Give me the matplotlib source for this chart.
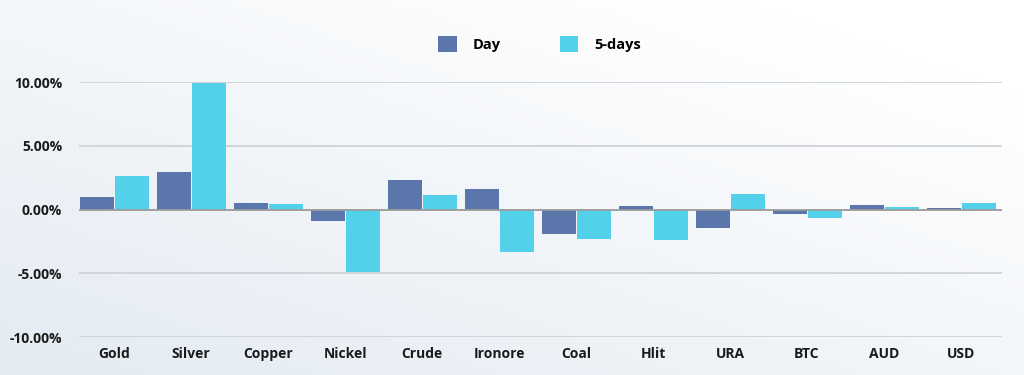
import matplotlib
matplotlib.use('Agg')
import matplotlib.pyplot as plt
import numpy as np

categories = ['Gold', 'Silver', 'Copper', 'Nickel', 'Crude', 'Ironore',
              'Coal', 'Hlit', 'URA', 'BTC', 'AUD', 'USD']
day = [0.99, 2.93, 0.55, -0.89, 2.30, 1.65, -1.91, 0.31, -1.46, -0.31, 0.34, 0.16]
five_days = [2.67, 9.93, 0.47, -4.92, 1.15, -3.32, -2.27, -2.38, 1.25, -0.68, 0.21, 0.55]
yticks = [-10, -5, 0, 5, 10]

plt.rcParams['font.family'] = ['Open Sans', 'DejaVu Sans']

fig = plt.figure(figsize=(10.24, 3.75), dpi=100)

# фон с градиентом
bg = fig.add_axes([0, 0, 1, 1])
xx, yy = np.meshgrid(np.linspace(0, 1, 200), np.linspace(0, 1, 100))
grad = np.clip(0.55 * xx + 0.6 * yy, 0, 1)
c0 = np.array([0.89, 0.92, 0.95])
c1 = np.array([1.0, 1.0, 1.0])
img = c0 + (c1 - c0) * grad[..., None]
bg.imshow(img, aspect='auto', extent=[0, 1, 0, 1], origin='lower')
bg.axis('off')

ax = fig.add_axes([0.077, 0.101, 0.902, 0.68])
ax.set_facecolor('none')

x = np.arange(len(categories))
w = 0.44
ax.bar(x - 0.265, day, w, color='#5B76AB', label='Day', zorder=3)
ax.bar(x + 0.195, five_days, w, color='#53D0EA', label='5-days', zorder=3)

ax.set_xlim(-0.5, len(categories) - 0.5)
ax.set_ylim(-10, 10)
ax.set_yticks(yticks)
ax.set_yticklabels([f'{v:.2f}%' for v in yticks], fontsize=10, fontweight='bold', color='#1a1a1a')
ax.set_xticks(x - 0.04)
ax.set_xticklabels(categories, fontsize=10, fontweight='bold', color='#1a1a1a')
ax.tick_params(axis='both', length=0)
ax.tick_params(axis='x', pad=7)
ax.tick_params(axis='y', pad=12)

for v in yticks:
    ax.axhline(v, color='#9a9a9a' if v == 0 else '#cfd2d6', lw=1.3, zorder=2 if v != 0 else 4)
for s in ax.spines.values():
    s.set_visible(False)

fig.legend(loc='center', bbox_to_anchor=(0.527, 0.882), ncol=2, frameon=False,
           handlelength=1.3, handleheight=1.3, handletextpad=1.1, columnspacing=4.0,
           prop={'weight': 'bold', 'size': 10.5})

fig.savefig('out.png', dpi=100)
